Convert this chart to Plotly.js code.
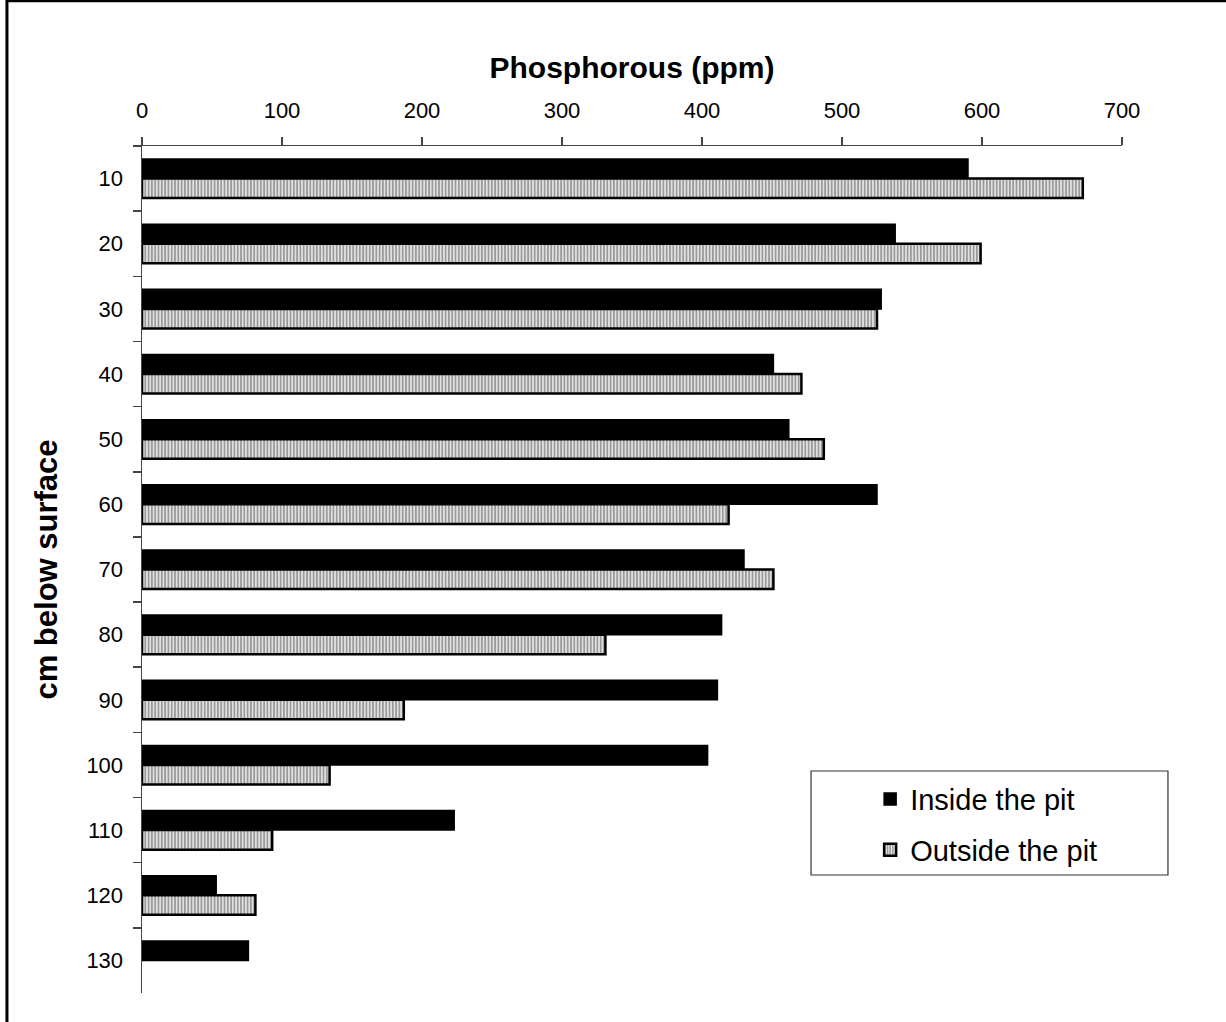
<!DOCTYPE html>
<html>
<head>
<meta charset="utf-8">
<script src="https://cdn.plot.ly/plotly-3.0.1.min.js"></script>
<style>
  html, body { margin: 0; padding: 0; background: #ffffff; }
  #chart { width: 1226px; height: 1022px; }
</style>
</head>
<body>
<div id="chart"></div>
<script>
// Depth below surface (cm) for each sample level
const depths = ['10', '20', '30', '40', '50', '60', '70', '80', '90', '100', '110', '120', '130'];
// Phosphorous concentration (ppm)
const insidePit = [590, 538, 528, 451, 462, 525, 430, 414, 411, 404, 223, 53, 76];
const outsidePit = [672, 599, 525, 471, 487, 419, 451, 331, 187, 134, 93, 81, null];
const seriesNames = ['Inside the pit', 'Outside the pit'];

const FONT = 'Liberation Sans, Arial, sans-serif';

const traces = [
  {
    type: 'bar',
    orientation: 'h',
    name: seriesNames[0],
    y: depths,
    x: insidePit,
    legendgroup: 'a',
    marker: { color: '#000000', line: { color: '#000000', width: 1.5 } },
    hoverinfo: 'x+y'
  },
  {
    type: 'bar',
    orientation: 'h',
    name: seriesNames[1],
    y: depths,
    x: outsidePit,
    legendgroup: 'b',
    marker: {
      color: '#9a9a9a',
      line: { color: '#000000', width: 2.5 },
      pattern: { shape: '|', fillmode: 'replace', bgcolor: '#9a9a9a', fgcolor: '#f2f2f2', size: 3.3, solidity: 0.4 }
    },
    hoverinfo: 'x+y'
  }
];

const layout = {
  width: 1226,
  height: 1022,
  margin: { l: 142, r: 104, t: 146, b: 29 },
  paper_bgcolor: '#ffffff',
  plot_bgcolor: '#ffffff',
  font: { family: FONT, color: '#000000' },
  barmode: 'group',
  bargap: 0.4,
  bargroupgap: 0,
  showlegend: true,
  legend: {
    x: 0.743, xanchor: 'left',
    y: 0.259, yanchor: 'top',
    bgcolor: 'rgba(0,0,0,0)',
    borderwidth: 0,
    font: { family: FONT, size: 29, color: '#000000' },
    traceorder: 'grouped',
    tracegroupgap: 10,
    itemwidth: 30
  },
  xaxis: {
    side: 'top',
    range: [0, 700],
    dtick: 100,
    tick0: 0,
    showgrid: false,
    zeroline: false,
    showline: true,
    linecolor: '#444444',
    linewidth: 1.5,
    ticks: 'outside',
    ticklen: 8,
    tickwidth: 1.5,
    tickcolor: '#444444',
    ticklabelstandoff: 10,
    tickfont: { family: FONT, size: 22, color: '#000000' },
    title: {
      text: '<b>Phosphorous (ppm)</b>',
      font: { family: FONT, size: 30, color: '#000000' },
      standoff: 10
    }
  },
  yaxis: {
    type: 'category',
    autorange: 'reversed',
    showgrid: false,
    zeroline: false,
    showline: true,
    linecolor: '#444444',
    linewidth: 1.5,
    ticks: 'outside',
    tickson: 'boundaries',
    ticklen: 8,
    tickwidth: 1.5,
    tickcolor: '#444444',
    ticklabelstandoff: 13,
    tickfont: { family: FONT, size: 22, color: '#000000' },
    title: {
      text: '<b>cm below surface</b>',
      font: { family: FONT, size: 31, color: '#000000' },
      standoff: 19
    }
  },
  shapes: [
    // outer chart frame (only its left and top edges fall on the page)
    {
      type: 'rect', xref: 'paper', yref: 'paper',
      x0: -0.1378, x1: 3, y0: -3, y1: 1.1716,
      line: { color: '#000000', width: 3 },
      fillcolor: 'rgba(0,0,0,0)',
      layer: 'below'
    },
    // legend box
    {
      type: 'rect', xref: 'paper', yref: 'paper',
      x0: 0.6827, x1: 1.0469, y0: 0.1393, y1: 0.2621,
      line: { color: '#333333', width: 1.2 },
      fillcolor: '#ffffff',
      layer: 'below'
    }
  ]
};

Plotly.newPlot('chart', traces, layout, { displayModeBar: false, staticPlot: true });
</script>
</body>
</html>
